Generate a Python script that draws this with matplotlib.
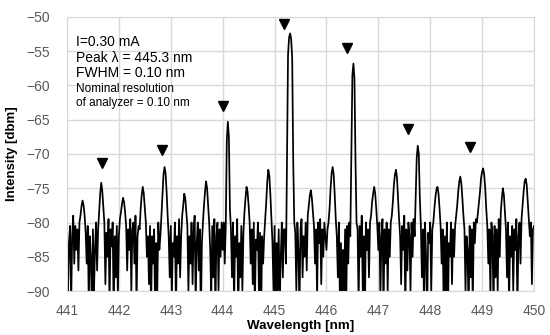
import numpy as np
import matplotlib
matplotlib.use('Agg')
from matplotlib import pyplot as plt

plt.rcParams['font.family'] = ['Liberation Sans', 'DejaVu Sans']

# spectrum, 0.02 nm step from 441.00 to 450.00
wl_start = 441.0
wl_step = 0.02
intensity = [
    -79.5, -90, -83, -80.5, -92, -82, -79, -86, -80.5, -84,
    -81, -87, -80, -79, -77.6, -76.8, -77.5, -79, -81.5, -86,
    -80.5, -92, -82, -85, -93, -81, -90, -84, -80, -87,
    -81, -78.5, -75.8, -74.2, -75.4, -77.8, -80, -89, -81.5, -85,
    -79.5, -92, -81, -83.5, -80, -94, -82, -88, -80.5, -91,
    -82, -79.5, -78.5, -77.3, -76.4, -77, -78.5, -80.5, -87, -81,
    -84, -79.5, -90, -81, -80, -86, -79, -92, -82, -80.5,
    -81, -78, -76, -74.8, -75.8, -78, -80, -85, -82, -89,
    -80.5, -93, -82, -86, -81, -95, -83, -90, -80, -84,
    -82, -79, -76, -73, -71.9, -72.8, -75.5, -79, -82, -88,
    -80.5, -91, -83, -85, -80, -93, -82, -86, -79.5, -88,
    -82, -79, -77.5, -75.8, -76.5, -78.5, -80.5, -90, -82, -86,
    -80, -89, -81.5, -79, -92, -83, -80, -87, -81, -94,
    -83, -80, -77.5, -75.5, -74, -75, -77.5, -80, -84, -91,
    -80.5, -88, -79.5, -93, -82, -80, -90, -81, -85, -80,
    -84, -80, -86, -80.5, -68, -65.3, -67.5, -78, -81, -88,
    -80, -92, -82, -85, -79.5, -94, -83, -88, -80.5, -90,
    -81.5, -78.5, -76.5, -74.8, -75.5, -77.5, -80, -86, -81, -89,
    -80, -93, -82.5, -84, -80, -91, -81.5, -95, -82, -86,
    -82, -79.5, -77, -74, -72.3, -73.2, -76, -79.5, -83, -90,
    -80.5, -94, -83, -90, -81, -92, -85, -80, -88, -81,
    -81, -86, -70, -55.5, -53, -52.4, -53.2, -56, -71, -80,
    -81.5, -90, -80, -84, -93, -81, -79.5, -88, -82, -85,
    -80, -87, -79, -77.5, -76, -75.3, -76.5, -78.5, -80.5, -86,
    -81, -91, -80, -83, -79.5, -89, -81, -85, -80, -82,
    -84, -81, -80, -78, -75, -72.8, -71.9, -73, -76, -79.5,
    -82, -88, -80, -92, -83, -95, -84, -90, -81, -93,
    -80.5, -86, -80, -82, -70, -58.5, -56.8, -59, -71, -80,
    -81, -92, -80.5, -85, -79, -90, -82, -94, -80, -84,
    -81, -88, -80, -79, -77, -75.8, -74.8, -75.8, -78, -80.5,
    -84, -80, -91, -82, -79.5, -93, -81, -86, -80, -90,
    -81, -85, -80, -79, -77, -74.5, -73, -72.3, -73.5, -76.5,
    -79.5, -82, -89, -80.5, -84, -79, -93, -81, -87, -80,
    -82, -90, -80, -85, -79.5, -82, -76.5, -70.5, -68.8, -70,
    -76.5, -80.5, -88, -81, -92, -80, -85, -94, -81.5, -83,
    -80, -90, -81, -80, -78, -76.3, -75.2, -74.8, -75.8, -78,
    -80.5, -86, -81, -93, -82, -90, -80, -95, -83, -85,
    -80, -89, -81, -85, -80.5, -79, -77.5, -75.5, -74, -73.3,
    -74.3, -76.5, -79, -81, -90, -82, -84, -94, -80.5, -88,
    -81, -92, -80, -83, -79.5, -80, -78.5, -77, -75.5, -73.5,
    -72.6, -72.1, -73, -75, -78, -80.5, -86, -81, -91, -80,
    -82, -93, -80.5, -88, -81, -90, -79.5, -85, -78.5, -76.5,
    -75, -76, -78.5, -81, -88, -80, -92, -82, -85, -80.5,
    -90, -81, -84, -79.5, -93, -82, -80, -86, -79.5, -77.5,
    -75.5, -74, -73.6, -74.5, -77, -79.5, -82, -80, -89, -81,
    -80.5,
]
wavelength = wl_start + wl_step * np.arange(len(intensity))

# mode markers
marker_wl = [441.67, 442.84, 444.01, 445.18, 446.39, 447.57, 448.77]
marker_db = [-71.3, -69.4, -63.0, -51.0, -54.6, -66.4, -69.0]

notes_big = ['I=0.30 mA', 'Peak λ = 445.3 nm', 'FWHM = 0.10 nm']
notes_small = ['Nominal resolution', 'of analyzer = 0.10 nm']

fig = plt.figure(figsize=(5.5, 3.35), dpi=100)
ax = fig.add_axes([0.1218, 0.1313, 0.8491, 0.818])

ax.plot(wavelength, intensity, color='black', lw=1.25)
ax.plot(marker_wl, marker_db, 'v', color='black', ms=7, ls='none')

ax.set_xlim(441, 450)
ax.set_ylim(-90, -50)
ax.set_xticks(np.arange(441, 451, 1))
ax.set_yticks(np.arange(-90, -49, 5))
ax.grid(True, color='#d9d9d9', lw=1)
ax.set_axisbelow(True)
for s in ax.spines.values():
    s.set_color('#d9d9d9')
ax.tick_params(length=0, labelsize=10, labelcolor='#595959')
ax.tick_params(axis='x', pad=9)
ax.tick_params(axis='y', pad=12)

ax.set_xlabel('Wavelength [nm]', fontsize=9.6, fontweight='bold', labelpad=2)
ax.set_ylabel('Intensity [dbm]', fontsize=9.5, fontweight='bold', labelpad=6)

ys = [42, 58, 73]
for t, y in zip(notes_big, ys):
    fig.text(76 / 550, 1 - y / 335, t, fontsize=10, va='center', ha='left')
for t, y in zip(notes_small, [89, 103]):
    fig.text(76 / 550, 1 - y / 335, t, fontsize=8.5, va='center', ha='left')

fig.savefig('out.png', dpi=100)
